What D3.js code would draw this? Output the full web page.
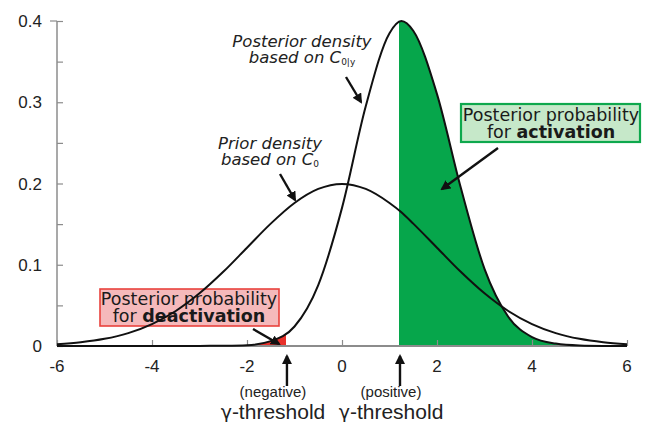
<!DOCTYPE html>
<html lang="en">
<head>
<meta charset="UTF-8" />
<title>Prior and posterior density</title>
<style>
  body { margin: 0; background: #fff; }
  svg { display: block; font-family: "DejaVu Sans", sans-serif; }
</style>
<script src="https://d3js.org/d3.v7.min.js"></script>
</head>
<body>
<div id="chart"></div>
<script>
// values
var xs        = [-6, -5.5, -5, -4.5, -4, -3.5, -3, -2.5, -2, -1.5, -1, -0.5, 0, 0.5, 1, 1.25, 1.5, 2, 2.5, 3, 3.5, 4, 4.5, 5, 5.5, 6];
var prior     = [0.0022, 0.0046, 0.0088, 0.0159, 0.027, 0.0431, 0.0648, 0.0913, 0.121, 0.1506, 0.176, 0.1933, 0.1995, 0.1933, 0.176, 0.1646, 0.1506, 0.121, 0.0913, 0.0648, 0.0431, 0.027, 0.0159, 0.0088, 0.0046, 0.0022];
var posterior = [0, 0, 0, 0, 0, 0, 0.0001, 0.0003, 0.001, 0.006, 0.024, 0.075, 0.17, 0.295, 0.385, 0.4, 0.388, 0.31, 0.195, 0.095, 0.036, 0.011, 0.003, 0.0006, 0.0001, 0];
var thresholds = [-1.18, 1.2];
var xTicks  = [-6, -4, -2, 0, 2, 4, 6];
var yTicks  = [0, 0.1, 0.2, 0.3, 0.4];
var yMinor  = [0.05, 0.15, 0.25, 0.35];

var W = 648, H = 422;
var svg = d3.select("#chart").append("svg").attr("width", W).attr("height", H);

var x = d3.scaleLinear().domain([-6, 6]).range([57, 627]);
var y = d3.scaleLinear().domain([0, 0.4]).range([346, 21]);

var pts = function(vals) { return xs.map(function(v, i) { return [v, vals[i]]; }); };

// arrow heads
var defs = svg.append("defs");
defs.append("marker").attr("id", "head")
  .attr("viewBox", "0 0 10 10").attr("refX", 8).attr("refY", 5)
  .attr("markerWidth", 4.2).attr("markerHeight", 4.2).attr("orient", "auto")
  .append("path").attr("d", "M0,0 L10,5 L0,10 Z").attr("fill", "#111");

defs.append("clipPath").attr("id", "clipNeg").append("rect")
  .attr("x", x(-6)).attr("y", 0).attr("width", x(thresholds[0]) - x(-6)).attr("height", H);
defs.append("clipPath").attr("id", "clipPos").append("rect")
  .attr("x", x(thresholds[1])).attr("y", 0).attr("width", x(6) - x(thresholds[1])).attr("height", H);

var area = d3.area().curve(d3.curveMonotoneX)
  .x(function(d) { return x(d[0]); }).y0(y(0)).y1(function(d) { return y(d[1]); });
var line = d3.line().curve(d3.curveMonotoneX)
  .x(function(d) { return x(d[0]); }).y(function(d) { return y(d[1]); });

// shaded tails
svg.append("path").datum(pts(posterior)).attr("d", area)
  .attr("fill", "#e8302a").attr("clip-path", "url(#clipNeg)");
svg.append("path").datum(pts(posterior)).attr("d", area)
  .attr("fill", "#06a64b").attr("clip-path", "url(#clipPos)");

// axes
var yAxis = svg.append("g").attr("transform", "translate(" + x(-6) + ",0)");
yAxis.call(d3.axisLeft(y).tickValues(yTicks.concat(yMinor)).tickSize(-6).tickFormat(""));
yAxis.select(".domain").remove();
yAxis.selectAll("line").attr("stroke", "#8c8c8c").attr("stroke-width", 1.2);
yAxis.append("line").attr("x1", 0).attr("x2", 0).attr("y1", y(0.4)).attr("y2", y(0))
  .attr("stroke", "#8c8c8c").attr("stroke-width", 1.5);
yAxis.append("line").attr("x1", -7).attr("x2", 0).attr("y1", y(0.4)).attr("y2", y(0.4))
  .attr("stroke", "#8c8c8c").attr("stroke-width", 1.2);
yAxis.selectAll(".ylab").data(yTicks).enter().append("text")
  .attr("x", -15).attr("y", function(d) { return y(d); }).attr("dy", "0.36em")
  .attr("text-anchor", "end").attr("font-size", 17).attr("fill", "#222")
  .text(function(d) { return d === 0 ? "0" : d3.format(".1f")(d); });

var xAxis = svg.append("g").attr("transform", "translate(0," + y(0) + ")");
xAxis.call(d3.axisBottom(x).tickValues(xTicks).tickSize(-6).tickFormat(""));
xAxis.select(".domain").remove();
xAxis.selectAll("line").attr("stroke", "#8c8c8c").attr("stroke-width", 1.2);
xAxis.append("line").attr("x1", x(-6)).attr("x2", x(6)).attr("y1", 0).attr("y2", 0)
  .attr("stroke", "#8c8c8c").attr("stroke-width", 2);
xAxis.selectAll(".xlab").data(xTicks).enter().append("text")
  .attr("x", function(d) { return x(d); }).attr("y", 26)
  .attr("text-anchor", "middle").attr("font-size", 17).attr("fill", "#222")
  .text(function(d) { return d < 0 ? "-" + Math.abs(d) : d; });

// boxes
var boxes = svg.append("g");
boxes.append("rect").attr("x", 100).attr("y", 289).attr("width", 179).attr("height", 37)
  .attr("fill", "#f5b9bb").attr("stroke", "#e9423d").attr("stroke-width", 1.6);
boxes.append("rect").attr("x", 461).attr("y", 104).attr("width", 179).attr("height", 38)
  .attr("fill", "#c6e8c9").attr("stroke", "#0ea84d").attr("stroke-width", 2.2);

function boxText(cx, cy, plain, bold) {
  var t = svg.append("text").attr("text-anchor", "middle").attr("font-size", 17.5).attr("fill", "#1a1a1a");
  t.append("tspan").attr("x", cx).attr("y", cy).text("Posterior probability");
  var l2 = t.append("tspan").attr("x", cx).attr("y", cy + 17);
  l2.append("tspan").text(plain);
  l2.append("tspan").attr("font-weight", "bold").text(bold);
}
boxText(189, 305, "for ", "deactivation");
boxText(551, 121, "for ", "activation");

// density curves
svg.append("path").datum(pts(prior)).attr("d", line)
  .attr("fill", "none").attr("stroke", "#111").attr("stroke-width", 2);
svg.append("path").datum(pts(posterior)).attr("d", line)
  .attr("fill", "none").attr("stroke", "#111").attr("stroke-width", 2);

// curve labels
function curveLabel(cx, cy, first, sub) {
  var t = svg.append("text").attr("text-anchor", "middle").attr("font-size", 16.5)
    .attr("font-style", "italic").attr("fill", "#222");
  t.append("tspan").attr("x", cx).attr("y", cy).text(first);
  var l2 = t.append("tspan").attr("x", cx).attr("y", cy + 16);
  l2.append("tspan").text("based on C");
  l2.append("tspan").attr("font-size", 9).attr("font-style", "normal").attr("dy", 2).text(sub);
}
curveLabel(302, 47, "Posterior density", "0|y");
curveLabel(270, 149, "Prior density", "0");

// pointer arrows
var arrows = [
  [346, 77, 361, 102],
  [280, 174, 295, 200],
  [498, 148, 442, 189],
  [253, 329, 279, 344]
];
svg.selectAll(".pointer").data(arrows).enter().append("line")
  .attr("x1", function(d) { return d[0]; }).attr("y1", function(d) { return d[1]; })
  .attr("x2", function(d) { return d[2]; }).attr("y2", function(d) { return d[3]; })
  .attr("stroke", "#111").attr("stroke-width", 2.4).attr("marker-end", "url(#head)");

// threshold markers
var labs = ["(negative)", "(positive)"];
thresholds.forEach(function(t, i) {
  var cx = x(t) + 1;
  svg.append("line").attr("x1", cx).attr("x2", cx).attr("y1", 386).attr("y2", 356)
    .attr("stroke", "#111").attr("stroke-width", 2.4).attr("marker-end", "url(#head)");
  svg.append("text").attr("x", cx - 14 + i * 5).attr("y", 397).attr("text-anchor", "middle")
    .attr("font-family", "Liberation Sans, Arial, sans-serif")
    .attr("font-size", 15).attr("fill", "#222").text(labs[i]);
  var g = svg.append("text").attr("x", cx - 14 + i * 5).attr("y", 419).attr("text-anchor", "middle")
    .attr("font-family", "Liberation Sans, Arial, sans-serif")
    .attr("font-size", 21).attr("fill", "#222");
  g.append("tspan").attr("font-family", "DejaVu Sans").attr("font-size", 19).text("\u03b3");
  g.append("tspan").text("-threshold");
});
</script>
</body>
</html>
